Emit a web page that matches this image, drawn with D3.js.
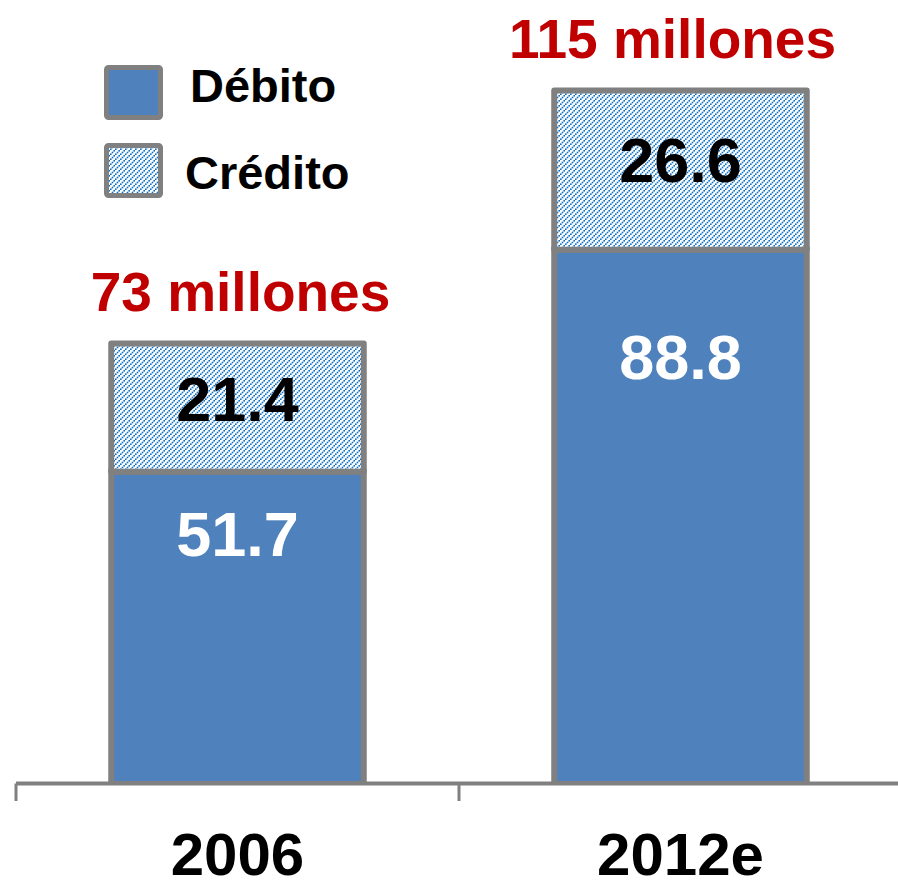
<!DOCTYPE html>
<html>
<head>
<meta charset="utf-8">
<script src="https://cdn.jsdelivr.net/npm/d3@7/dist/d3.min.js"></script>
<style>
  html, body { margin: 0; padding: 0; background: #fff; }
  svg { display: block; font-family: "Liberation Sans", Arial, sans-serif; font-weight: bold; }
</style>
</head>
<body>
<svg id="chart" width="898" height="887"></svg>
<script>
const categories = ["2006", "2012e"];
const debito = [51.7, 88.8];
const credito = [21.4, 26.6];
const totalLabels = ["73 millones", "115 millones"];
const seriesNames = ["Débito", "Crédito"];

const svg = d3.select("#chart");
const defs = svg.append("defs");
const pat = defs.append("pattern")
  .attr("id", "hatch").attr("patternUnits", "userSpaceOnUse")
  .attr("width", 5).attr("height", 5);
pat.append("rect").attr("width", 5).attr("height", 5).attr("fill", "#fff");
pat.selectAll("rect.dot").data([[0, 3.4], [1.7, 1.7], [3.4, 0]]).join("rect")
  .attr("class", "dot")
  .attr("x", d => d[0]).attr("y", d => d[1])
  .attr("width", 1.6).attr("height", 1.6).attr("fill", "#0a6fc4");

const x = d3.scaleBand().domain(categories).range([16, 902])
  .paddingInner(0.43).paddingOuter(0.215);
const y = d3.scaleLinear().domain([0, 115.4]).range([781, 90.5]);

const rows = categories.map((c, i) => ({ c, d: debito[i], k: credito[i], t: totalLabels[i] }));

const g = svg.append("g");
const grayC = "#808080";

// debit bars
g.selectAll(".deb").data(rows).join("rect")
  .attr("x", r => x(r.c)).attr("width", x.bandwidth())
  .attr("y", r => y(r.d)).attr("height", r => y(0) - y(r.d))
  .attr("fill", "#4f81bd").attr("stroke", grayC).attr("stroke-width", 6);
// credit bars
g.selectAll(".cred").data(rows).join("rect")
  .attr("x", r => x(r.c)).attr("width", x.bandwidth())
  .attr("y", r => y(r.d + r.k)).attr("height", r => y(r.d) - y(r.d + r.k))
  .attr("fill", "url(#hatch)").attr("stroke", grayC).attr("stroke-width", 6)
  .attr("stroke-linejoin", "round");

// cover bottom stroke of debit bars
g.selectAll(".cover").data(rows).join("rect")
  .attr("x", r => x(r.c) + 3).attr("width", x.bandwidth() - 6)
  .attr("y", y(0) - 3).attr("height", 3).attr("fill", "#4f81bd");

// axis
const axisY = 783.5;
const [r0, r1] = x.range();
g.append("line").attr("x1", r0).attr("x2", r1).attr("y1", axisY).attr("y2", axisY)
  .attr("stroke", grayC).attr("stroke-width", 4);
const tickXs = d3.range(categories.length + 1).map(i => r0 + i * x.step());
g.selectAll(".tick").data(tickXs).join("line")
  .attr("x1", d => d).attr("x2", d => d).attr("y1", axisY).attr("y2", 801)
  .attr("stroke", grayC).attr("stroke-width", 3);

// category labels
g.selectAll(".cat").data(rows).join("text")
  .attr("x", r => x(r.c) + x.bandwidth() / 2).attr("y", 875)
  .attr("text-anchor", "middle").attr("font-size", 60).attr("fill", "#000")
  .text(r => r.c);

// value labels
g.selectAll(".dl").data(rows).join("text")
  .attr("x", r => x(r.c) + x.bandwidth() / 2).attr("y", r => y(r.d * 0.8))
  .attr("dy", "0.36em")
  .attr("text-anchor", "middle").attr("font-size", 63).attr("fill", "#fff")
  .text(r => r.d.toFixed(1));
g.selectAll(".kl").data(rows).join("text")
  .attr("x", r => x(r.c) + x.bandwidth() / 2).attr("y", r => y(r.d + r.k * 0.57))
  .attr("dy", "0.36em")
  .attr("text-anchor", "middle").attr("font-size", 63).attr("fill", "#000")
  .text(r => r.k.toFixed(1));

// totals
g.selectAll(".tot").data(rows).join("text")
  .attr("x", (r, i) => x(r.c) + x.bandwidth() / 2 + (i === 0 ? 3 : -8))
  .attr("y", r => y(r.d + r.k) - 33)
  .attr("text-anchor", "middle").attr("font-size", 55).attr("fill", "#c00000")
  .text(r => r.t);

// legend
const leg = svg.append("g");
const fills = ["#4f81bd", "url(#hatch)"];
const legY = [67.5, 145.5];
const legTextY = [102, 189];
seriesNames.forEach((n, i) => {
  leg.append("rect").attr("x", 106.5).attr("y", legY[i]).attr("width", 54).attr("height", 50)
    .attr("rx", 2).attr("fill", fills[i]).attr("stroke", grayC).attr("stroke-width", 5);
  leg.append("text").attr("x", i === 0 ? 190 : 185).attr("y", legTextY[i])
    .attr("font-size", 47).attr("fill", "#000").text(n);
});
</script>
</body>
</html>
